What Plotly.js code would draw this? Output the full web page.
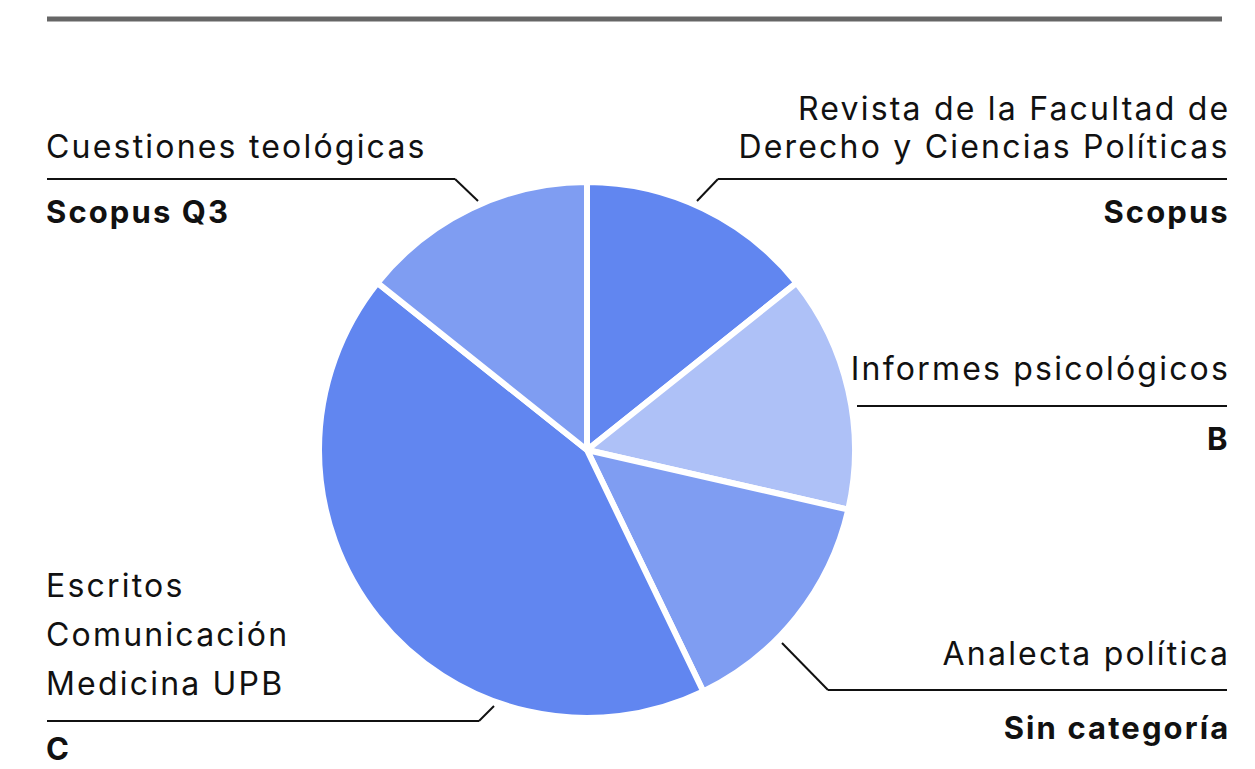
<!DOCTYPE html>
<html>
<head>
<meta charset="utf-8">
<script src="https://cdn.plot.ly/plotly-3.0.1.min.js"></script>
<style>
html,body{margin:0;padding:0;background:#fff;}
#chart{width:1255px;height:769px;}
#chart .annotation-text{letter-spacing:2.2px;}
#chart .annotation-text tspan[style*="bold"]{letter-spacing:2.1px;}
</style>
</head>
<body>
<div id="chart"></div>
<script>
// Data
const journals = ["Revista de la Facultad de Derecho y Ciencias Políticas", "Informes psicológicos", "Analecta política", "Escritos, Comunicación, Medicina UPB", "Cuestiones teológicas"];
const categories = ["Scopus", "B", "Sin categoría", "C", "Scopus Q3"];
const counts = [1, 1, 1, 3, 1];
const sliceColors = ["#6186f0", "#aec1f7", "#7f9df2", "#6186f0", "#7f9df2"];

const W = 1255, H = 769;
const px = x => x / W;
const py = y => 1 - y / H;

const FONT = "Inter, 'Noto Sans', sans-serif";
const reg = {family: FONT, size: 32, color: "#111"};
const bold = {family: FONT, size: 31, color: "#111"};

function ann(text, x, y, align, font) {
  return {text: text, x: px(x), y: py(y), xref: "paper", yref: "paper",
    xanchor: align, yanchor: "middle", showarrow: false, font: font, align: align};
}
const b = t => "<b>" + t + "</b>";
const L = 44, R = 1232;

const annotations = [
  ann("Cuestiones teológicas", L, 147, "left", reg),
  ann(b(categories[4]), L, 212, "left", bold),
  ann("Revista de la Facultad de", R, 108, "right", reg),
  ann("Derecho y Ciencias Políticas", R, 147, "right", reg),
  ann(b(categories[0]), R, 212, "right", bold),
  ann("Informes psicológicos", R, 368, "right", reg),
  ann(b(categories[1]), R, 438, "right", bold),
  ann("Analecta política", R, 653, "right", reg),
  ann(b(categories[2]), R, 727, "right", bold),
  ann("Escritos", L, 585, "left", reg),
  ann("Comunicación", L, 634, "left", reg),
  ann("Medicina UPB", L, 683, "left", reg),
  ann(b(categories[3]), L, 748, "left", bold)
];

function seg(x0, y0, x1, y1, color, width) {
  return {type: "line", xref: "paper", yref: "paper", x0: px(x0), y0: py(y0), x1: px(x1), y1: py(y1),
    line: {color: color || "#111", width: width || 2}};
}
const shapes = [
  seg(47, 19, 1222, 19, "#666666", 5),
  // Cuestiones teológicas
  seg(47, 179, 455, 179), seg(455, 179, 478, 201),
  // Revista
  seg(718, 179, 1227, 179), seg(718, 179, 697, 201),
  // Informes
  seg(857, 406, 1227, 406),
  // Analecta
  seg(828, 690, 1227, 690), seg(828, 690, 782, 643),
  // C
  seg(47, 721, 479, 721), seg(479, 721, 494, 706)
];

const trace = {
  type: "pie",
  labels: journals,
  values: counts,
  sort: false,
  direction: "clockwise",
  rotation: 0,
  marker: {colors: sliceColors, line: {color: "#ffffff", width: 6}},
  textinfo: "none",
  hoverinfo: "none",
  showlegend: false,
  domain: {x: [px(319), px(855)], y: [py(718), py(182)]}
};

const layout = {
  width: W, height: H,
  margin: {l: 0, r: 0, t: 0, b: 0},
  paper_bgcolor: "#ffffff",
  plot_bgcolor: "#ffffff",
  showlegend: false,
  annotations: annotations,
  shapes: shapes
};

Plotly.newPlot("chart", [trace], layout, {displayModeBar: false, staticPlot: true});
</script>
</body>
</html>
